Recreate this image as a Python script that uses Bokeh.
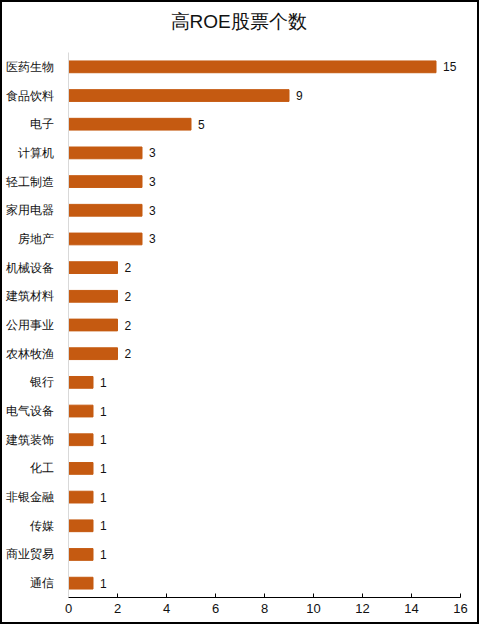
from bokeh.plotting import figure
from bokeh.models import Range1d, FixedTicker, ColumnDataSource
from bokeh.core.properties import value
from bokeh.embed import file_html
from bokeh.resources import INLINE

title_text = "高ROE股票个数"
categories = ["医药生物", "食品饮料", "电子", "计算机", "轻工制造", "家用电器", "房地产",
              "机械设备", "建筑材料", "公用事业", "农林牧渔", "银行", "电气设备", "建筑装饰",
              "化工", "非银金融", "传媒", "商业贸易", "通信"]
counts = [15, 9, 5, 3, 3, 3, 3, 2, 2, 2, 2, 1, 1, 1, 1, 1, 1, 1, 1]
x_ticks = [0, 2, 4, 6, 8, 10, 12, 14, 16]

n = len(categories)
ypos = [n - 1 - i for i in range(n)]
src = ColumnDataSource(dict(y=ypos, v=counts, cat=categories, lab=[str(c) for c in counts]))

FONT = "Arial"
BAR = "#C55A11"

p = figure(width=479, height=624, output_backend="svg", toolbar_location=None,
           x_range=Range1d(0, 16), y_range=Range1d(-0.5, n - 0.5),
           min_border_left=66, min_border_right=21, min_border_top=50, min_border_bottom=29,
           background_fill_color="white", border_fill_color="white")
p.styles = {"border": "2px solid black"}
p.outline_line_color = None
p.xgrid.visible = False
p.ygrid.visible = False

p.title.text = title_text + "\n"
p.title.align = "left"
p.title.offset = 102
p.title.text_font = FONT
p.title.text_font_size = "19px"
p.title.text_font_style = "normal"
p.title.text_color = "#111111"
p.title.text_line_height = 1.0
p.title.standoff = 0

p.hbar(y="y", right="v", left=0, height=0.41, source=src, color=BAR)
p.text(x="v", y="y", text="lab", source=src, x_offset=7, text_baseline="middle",
       text_align="left", text_font_size="12px", text_color="#111111",
       text_font=value(FONT))

# x axis
xa = p.xaxis[0]
xa.ticker = FixedTicker(ticks=x_ticks)
xa.axis_line_color = "black"
xa.major_tick_line_color = "black"
xa.major_tick_in = 4
xa.major_tick_out = 0
xa.minor_tick_line_color = None
xa.major_label_text_font = FONT
xa.major_label_text_font_size = "13px"
xa.major_label_text_color = "#111111"
xa.major_label_standoff = 6

# y axis
ya = p.yaxis[0]
ya.ticker = FixedTicker(ticks=ypos)
ya.major_label_overrides = {y: c for y, c in zip(ypos, categories)}
ya.axis_line_color = "#D9D9D9"
ya.major_tick_line_color = None
ya.minor_tick_line_color = None
ya.major_label_text_font = FONT
ya.major_label_text_font_size = "12px"
ya.major_label_text_color = "#111111"
ya.major_label_standoff = 9

open("out.html", "w").write(file_html(p, INLINE))
